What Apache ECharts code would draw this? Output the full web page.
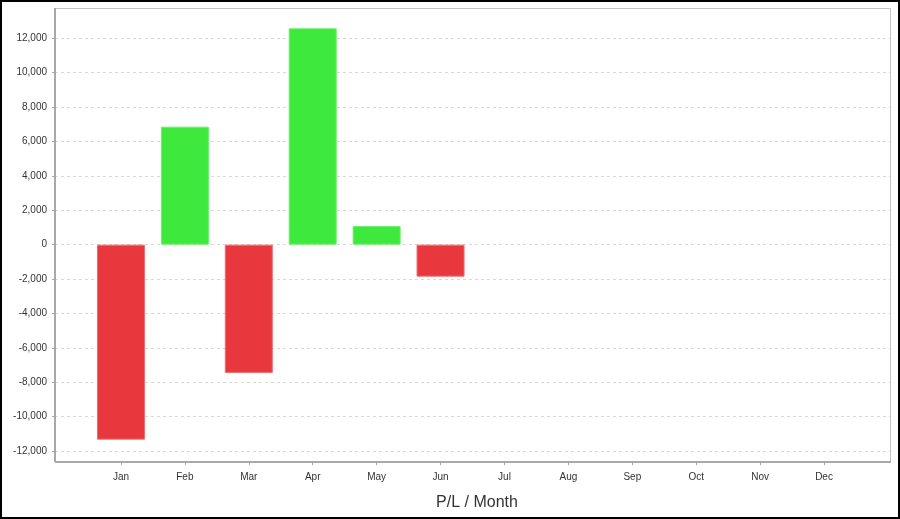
<!DOCTYPE html>
<html><head><meta charset="utf-8">
<script src="https://cdn.jsdelivr.net/npm/echarts@6/dist/echarts.min.js"></script>
<style>html,body{margin:0;padding:0;background:#fff}#c{width:900px;height:519px}</style>
</head><body><div id="c"></div>
<script>
const months = ['Jan','Feb','Mar','Apr','May','Jun','Jul','Aug','Sep','Oct','Nov','Dec'];
const plValues = [-11340, 6860, -7460, 12580, 1080, -1860, null, null, null, null, null, null];
const yTicks = [-12000,-10000,-8000,-6000,-4000,-2000,0,2000,4000,6000,8000,10000,12000];
const chartTitle = 'P/L / Month';

const chart = echarts.init(document.getElementById('c'));
const font = 'Liberation Sans, Arial, sans-serif';
chart.setOption({
  animation: false,
  title: { text: chartTitle, left: 472, textAlign: 'center', top: 490,
    textStyle: { fontFamily: font, fontSize: 16, fontWeight: 'normal', color: '#333' } },
  graphic: [
    { type: 'rect', shape: { x: 1, y: 1, width: 898, height: 517 }, style: { fill: null, stroke: '#000', lineWidth: 2 }, silent: true },
    { type: 'rect', shape: { x: 55.5, y: 8.5, width: 835, height: 453 }, style: { fill: null, stroke: '#c4c4c4', lineWidth: 1 }, silent: true, z: 1 },
    { type: 'line', shape: { x1: 55, y1: 8, x2: 55, y2: 462 }, style: { stroke: '#a8a8a8', lineWidth: 2 }, silent: true, z: 1 },
    { type: 'line', shape: { x1: 55, y1: 462, x2: 891, y2: 462 }, style: { stroke: '#a8a8a8', lineWidth: 2 }, silent: true, z: 1 }
  ],
  grid: [
    { left: 55, right: 10, top: 38.3, bottom: 519 - 451, containLabel: false },
    { left: 89, right: 44, top: 38.3, bottom: 519 - 451, containLabel: false }
  ],
  xAxis: [
    { type: 'value', gridIndex: 0, show: false },
    { type: 'category', gridIndex: 1, data: months, offset: 11, position: 'bottom',
      axisLine: { show: false, onZero: false },
      axisTick: { show: true, alignWithLabel: true, length: 3, lineStyle: { color: '#a8a8a8' } },
      axisLabel: { fontFamily: font, fontSize: 10, color: '#333', margin: 10 } }
  ],
  yAxis: [
    { type: 'value', gridIndex: 0, min: -12000, max: 12000, interval: 2000,
      axisLine: { show: false },
      axisTick: { show: true, length: 3, lineStyle: { color: '#a8a8a8' } },
      axisLabel: { fontFamily: font, fontSize: 10, color: '#333', margin: 8,
        formatter: v => v.toLocaleString('en-US') },
      splitLine: { show: true, lineStyle: { color: '#d8d8d8', type: [3, 3] } } },
    { type: 'value', gridIndex: 1, min: -12000, max: 12000, show: false, splitLine: { show: false } }
  ],
  series: [{
    type: 'bar', xAxisIndex: 1, yAxisIndex: 1, barWidth: 48, clip: false,
    data: plValues.map(v => v == null ? null : ({
      value: v,
      itemStyle: { color: v < 0 ? '#e8383d' : '#3ee83c', borderColor: v < 0 ? '#f06a6e' : '#6af06a', borderWidth: 1 }
    }))
  }]
});
</script></body></html>
